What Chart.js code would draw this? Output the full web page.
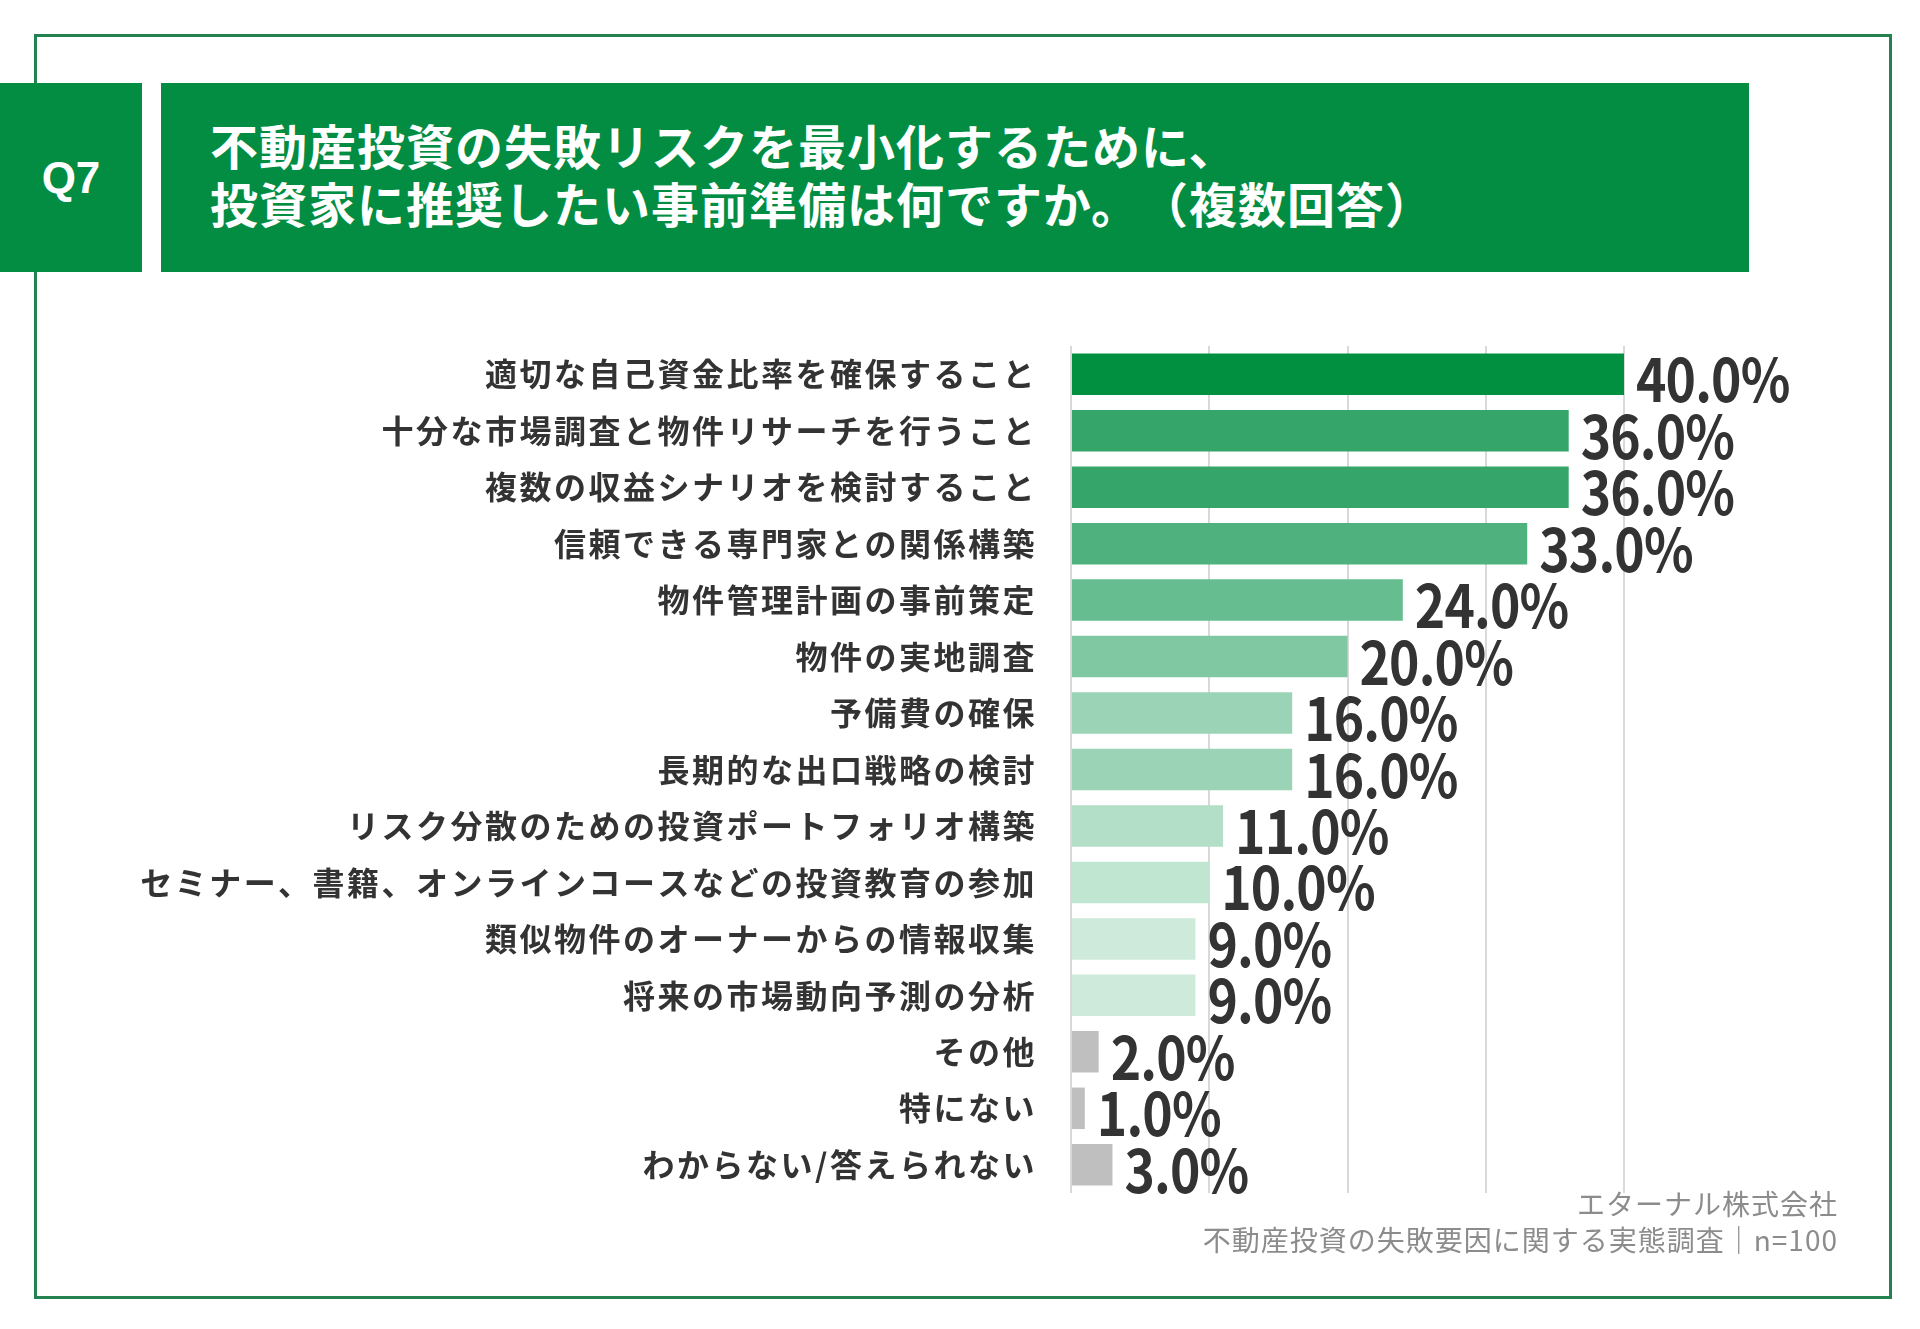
<!DOCTYPE html>
<html lang="ja">
<head>
    <meta charset="UTF-8">
    <title>Q7 事前準備</title>
    <script src="https://cdn.jsdelivr.net/npm/chart.js"></script>
    <style>
        body {
            margin: 0;
            padding: 0;
            width: 1920px;
            height: 1329px;
            background: #ffffff;
            position: relative;
            overflow: hidden;
            font-family: "Noto Sans CJK JP", "Noto Sans", sans-serif;
            text-spacing-trim: space-all;
        }

        #frame {
            position: absolute;
            left: 34px;
            top: 34px;
            width: 1852px;
            height: 1259px;
            border: 3px solid #23824f;
        }

        #qbox {
            position: absolute;
            left: 0;
            top: 83px;
            width: 142px;
            height: 189px;
            background: #028d42;
            color: #fff;
            font-family: "Liberation Sans", Arial, sans-serif;
            font-weight: bold;
            font-size: 44px;
            display: flex;
            align-items: center;
            justify-content: center;
        }

        #title {
            position: absolute;
            left: 161px;
            top: 83px;
            width: 1588px;
            height: 189px;
            background: #028d42;
            color: #fff;
            font-weight: 700;
            font-size: 48px;
            letter-spacing: 1px;
            line-height: 58px;
            box-sizing: border-box;
            padding-left: 49px;
            padding-bottom: 10px;
            display: flex;
            flex-direction: column;
            justify-content: center;
        }

        #source {
            position: absolute;
            right: 82px;
            top: 1185px;
            text-align: right;
            color: #8c8c8c;
            font-size: 28px;
            letter-spacing: 1px;
            line-height: 36px;
        }

        #chart {
            position: absolute;
            left: 0;
            top: 0;
        }
    </style>
</head>
<body>

    <div id="frame"></div>
    <div id="qbox">Q7</div>
    <div id="title">
        <div>不動産投資の失敗リスクを最小化するために、</div>
        <div>投資家に推奨したい事前準備は何ですか。（複数回答）</div>
    </div>
    <canvas id="chart" width="1920" height="1329"></canvas>
    <div id="source">
        <div>エターナル株式会社</div>
        <div>不動産投資の失敗要因に関する実態調査｜n=100</div>
    </div>

    <script>
        const categories = [
            '適切な自己資金比率を確保すること',
            '十分な市場調査と物件リサーチを行うこと',
            '複数の収益シナリオを検討すること',
            '信頼できる専門家との関係構築',
            '物件管理計画の事前策定',
            '物件の実地調査',
            '予備費の確保',
            '長期的な出口戦略の検討',
            'リスク分散のための投資ポートフォリオ構築',
            'セミナー、書籍、オンラインコースなどの投資教育の参加',
            '類似物件のオーナーからの情報収集',
            '将来の市場動向予測の分析',
            'その他',
            '特にない',
            'わからない/答えられない'
        ];
        const values = [40, 36, 36, 33, 24, 20, 16, 16, 11, 10, 9, 9, 2, 1, 3];
        const axisTicks = [0, 10, 20, 30, 40];

        // bar shades, darkest for the top answer, grey for the non-answers
        const barColors = [
            '#00903f', '#36a56a', '#36a56a', '#4fb17e', '#66bd8f',
            '#80c8a2', '#9ad3b5', '#9ad3b5', '#b3dfc8', '#c0e5d1',
            '#cdeadb', '#cdeadb', '#bfbfbf', '#bfbfbf', '#bfbfbf'
        ];

        const valueLabels = {
            id: 'valueLabels',
            beforeDraw(chart) {
                chart.ctx.letterSpacing = '2.5px';
            },
            afterDatasetsDraw(chart) {
                const ctx = chart.ctx;
                const meta = chart.getDatasetMeta(0);
                ctx.save();
                ctx.letterSpacing = '-1px';
                ctx.font = '700 60px "Noto Sans CJK JP"';
                ctx.fillStyle = '#333333';
                ctx.textAlign = 'left';
                ctx.textBaseline = 'alphabetic';
                meta.data.forEach((bar, i) => {
                    ctx.save();
                    ctx.translate(bar.x + 12, bar.y + 28);
                    // the source uses a narrower face for the numbers
                    ctx.scale(0.86, 1);
                    ctx.fillText(values[i].toFixed(1) + '%', 0, 0);
                    ctx.restore();
                });
                ctx.restore();
            },
            afterDraw(chart) {
                chart.ctx.letterSpacing = '0px';
            }
        };

        new Chart(document.getElementById('chart'), {
            type: 'bar',
            data: {
                labels: categories,
                datasets: [{
                    data: values,
                    backgroundColor: barColors,
                    borderWidth: 0,
                    barPercentage: 0.735,
                    categoryPercentage: 1.0
                }]
            },
            options: {
                indexAxis: 'y',
                responsive: false,
                animation: false,
                devicePixelRatio: 1,
                layout: {
                    padding: { top: 346, bottom: 136, right: 296, left: 0 }
                },
                plugins: {
                    legend: { display: false },
                    tooltip: { enabled: false }
                },
                scales: {
                    x: {
                        min: 0,
                        max: 40,
                        afterBuildTicks(scale) {
                            scale.ticks = axisTicks.map(v => ({ value: v }));
                        },
                        ticks: { display: false },
                        border: { display: false },
                        grid: {
                            color: '#d9d9d9',
                            lineWidth: 2,
                            drawTicks: false
                        }
                    },
                    y: {
                        afterFit(scale) {
                            scale.width = 1071;
                        },
                        border: { display: false },
                        grid: { display: false, drawTicks: false },
                        ticks: {
                            padding: 34,
                            color: '#333333',
                            font: {
                                family: '"Noto Sans CJK JP"',
                                size: 32,
                                weight: '700'
                            }
                        }
                    }
                }
            },
            plugins: [valueLabels]
        });
    </script>

</body>
</html>
